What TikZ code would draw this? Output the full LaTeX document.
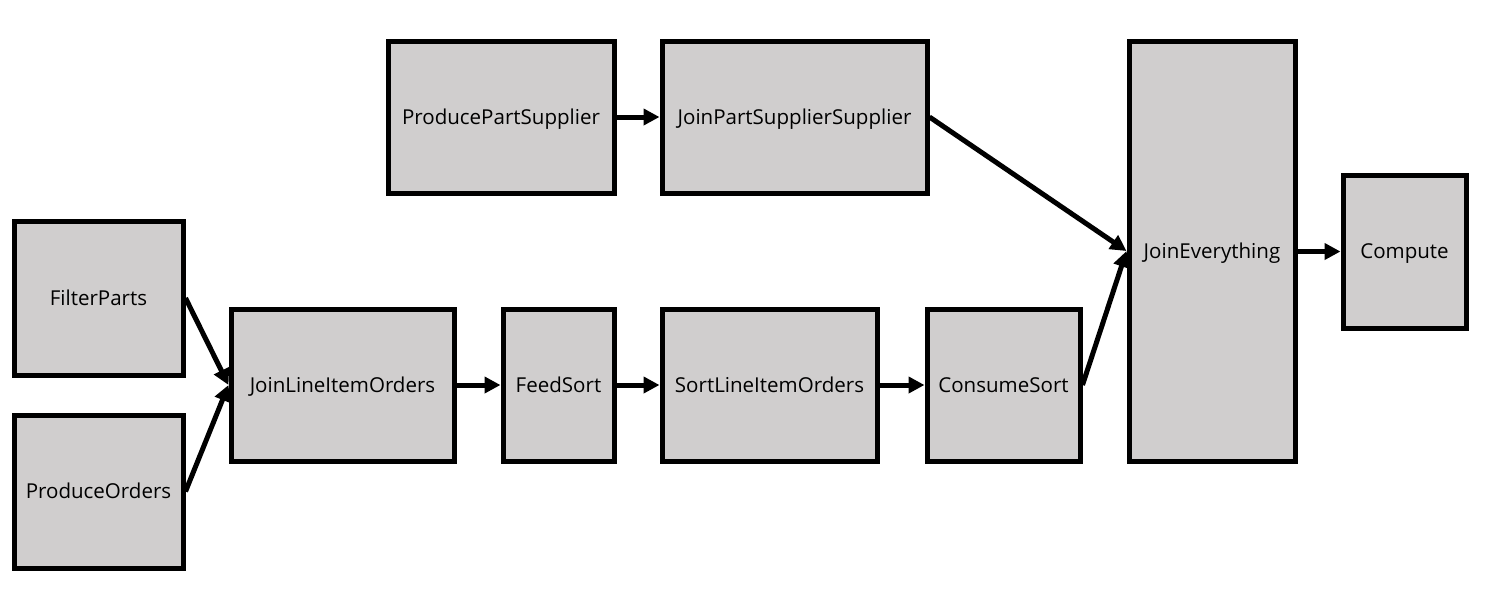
\documentclass[tikz,border=0pt]{standalone}
\usepackage{fontspec}
\setmainfont{Open Sans}
\usetikzlibrary{arrows.meta}
\definecolor{boxgray}{HTML}{D0CECE}

\begin{document}
\begin{tikzpicture}[
  x=0.75pt, y=-0.75pt,
  box/.style={draw, line width=3.75pt, fill=boxgray, inner sep=0pt,
    font=\fontsize{15.4pt}{18pt}\selectfont, text height=11pt, text depth=0pt},
  flow/.style={line width=3.75pt, -{Triangle[length=12pt, width=12pt]}}
]
\useasboundingbox (0,0) rectangle (1486,597);
% top row
\node[box, minimum width=169.5pt, minimum height=114pt] (pps) at (501,117) {ProducePartSupplier};
\node[box, minimum width=198.75pt, minimum height=114pt] (jpss) at (794.5,117) {JoinPartSupplierSupplier};
% sources
\node[box, minimum width=126.75pt, minimum height=115.5pt] (filter) at (98.5,298) {FilterParts};
\node[box, minimum width=126.75pt, minimum height=114.75pt] (orders) at (98.5,491.5) {ProduceOrders};
% bottom row
\node[box, minimum width=167.25pt, minimum height=114pt] (jlio) at (342.5,385) {JoinLineItemOrders};
\node[box, minimum width=83.25pt, minimum height=114pt] (feed) at (558.5,385) {FeedSort};
\node[box, minimum width=161.25pt, minimum height=114pt] (sort) at (769.5,385) {SortLineItemOrders};
\node[box, minimum width=114.75pt, minimum height=114pt] (consume) at (1003.5,385) {ConsumeSort};
% sink
\node[box, minimum width=124.5pt, minimum height=315pt] (join) at (1212,251) {JoinEverything};
\node[box, minimum width=92.25pt, minimum height=114.75pt] (compute) at (1404.5,251.5) {Compute};

\draw[flow] (pps) -- (jpss);
\draw[flow] (filter.east) -- (jlio.west);
\draw[flow] (orders.east) -- (jlio.west);
\draw[flow] (jlio) -- (feed);
\draw[flow] (feed) -- (sort);
\draw[flow] (sort) -- (consume);
\draw[flow] (jpss.east) -- (join.west);
\draw[flow] (consume.east) -- (join.west);
\draw[flow] (join.east |- compute) -- (compute);
\end{tikzpicture}
\end{document}
